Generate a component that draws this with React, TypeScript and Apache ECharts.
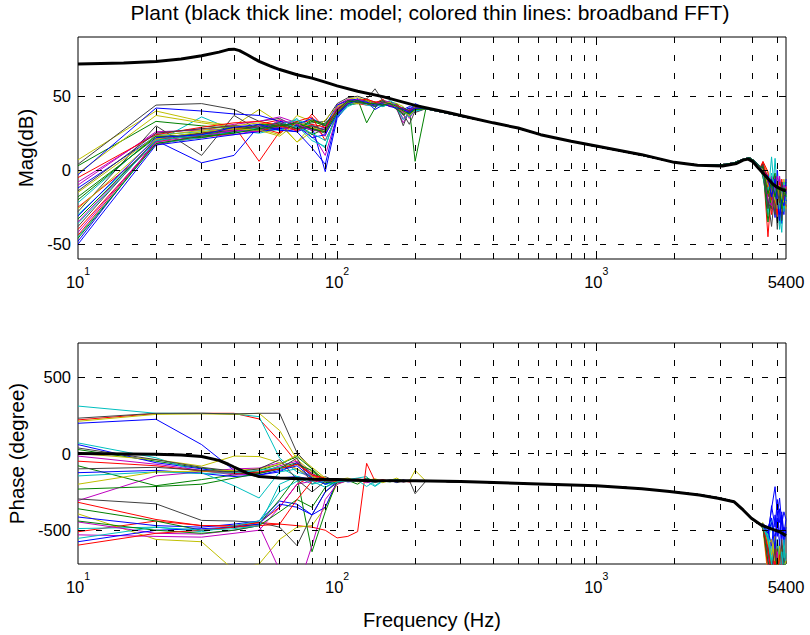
import React, { useEffect, useRef } from 'react';
import * as echarts from 'echarts';

const TITLE = 'Plant (black thick line: model; colored thin lines: broadband FFT)';
const FONT = '"Liberation Sans", Arial, Helvetica, sans-serif';

// frequency grids (Hz)
const F_LOW = [10, 20, 30, 40, 50, 60, 70, 80, 90, 100, 110, 120, 130, 140, 150, 160, 170, 180, 190, 200];
const F_MID = [220, 250, 300, 400, 500, 600, 800, 1000, 1300, 1600, 2000, 2500, 3000, 3400, 3700, 3900, 4100, 4300];
const F_END = [4400, 4600, 4750, 4900, 5000, 5100, 5200, 5300, 5400];

// ticks / labels
const FREQ_MIN = 10;
const FREQ_MAX = 5400;
const MAG_RANGE = [-60, 90];
const PHASE_RANGE = [-720, 720];
const MAG_TICKS = [-50, 0, 50];
const PHASE_TICKS = [-500, 0, 500];
const FREQ_TICKS = [10, 100, 1000, 5400];
const GRID_FREQS = [20, 30, 40, 50, 60, 70, 80, 90, 100, 200, 300, 400, 500, 600, 700, 800, 900, 1000, 2000, 3000, 4000, 5000];

const LINE_COLORS = ['#0000FF', '#008000', '#FF0000', '#00BFBF', '#BF00BF', '#BFBF00', '#404040'];

// model (black thick)
const F_MODEL_MAG = [10, 15, 20, 25, 30, 35, 38, 40, 42, 45, 50, 55, 60, 70, 80, 90, 100, 120, 150, 200, 270, 300, 400, 500, 610, 800, 1000, 1500, 2000, 2460, 3070, 3480, 3690, 3860, 4020, 4180, 4560, 4800, 4990, 5260, 5400];
const MAG_MODEL = [71.8, 72.4, 73.5, 75.2, 77.3, 79.8, 81.5, 81.8, 80.8, 78, 73.5, 70.5, 68, 64.5, 62.2, 59.5, 57, 53.3, 49.7, 43.8, 38.8, 37, 32, 28.5, 24, 19.5, 16.3, 10.5, 5.3, 3.3, 2.8, 4.5, 6.8, 7.5, 5.8, 2.4, -5, -9.3, -11.5, -13.4, -14];
const F_MODEL_PHASE = [10, 20, 25, 30, 35, 38, 40, 42, 45, 50, 60, 80, 100, 130, 200, 300, 600, 1000, 1500, 1920, 2500, 2950, 3400, 3690, 3970, 4330, 4800, 5100, 5400];
const PHASE_MODEL = [0, -5, -10, -20, -45, -70, -88, -105, -128, -150, -160, -167, -170, -176, -178, -183, -198, -210, -230, -248, -270, -292, -314, -368, -422, -466, -494, -510, -535];

// measured (colored thin) — shared middle band
const MAG_MID = [41.5, 39.5, 36.5, 32, 28.3, 24.3, 19.5, 16, 12.3, 9, 5.3, 3.5, 3.5, 5, 7.5, 8.5, 6, 2];
const PHASE_MID = [-180, -182, -184, -190, -194, -198, -204, -210, -221, -234, -250, -268, -290, -312, -365, -410, -445, -465];

const MAG_LOW = [
  [-12, 23, 24, 26, 28, 31, 30, 27, 29, 40, 46, 47, 48, 44, 46, 45, 44, 41, 43, 42],
  [-18, 22, 25, 27, 26, 29, 33, 28, 25, 38, 45, 48, 32, 42, 47, 46, 45, 40, 42, 6],
  [-25, 17, 24, 30, 6, 26, 31, 34, 30, 36, 44, 46, 47, 45, 48, 44, 43, 39, 41, 43],
  [-30, 19, 36, 27, 25, 28, 35, 22, 15, 41, 47, 45, 46, 43, 45, 47, 44, 42, 40, 44],
  [-35, 21, 23, 24, 27, 33, 28, 25, 10, 37, 46, 47, 48, 46, 44, 45, 42, 35, 38, 41],
  [7, 40, 33, 30, 41, 32, 19, 30, 27, 43, 48, 49, 47, 44, 46, 44, 45, 43, 37, 42],
  [4, 44, 45, 41, 33, 35, 29, 32, 33, 45, 49, 50, 48, 55, 47, 45, 43, 38, 31, 40],
  [-48, 20, 5, 10, 30, 28, 26, 30, -1, 35, 44, 47, 46, 41, 44, 46, 43, 40, 42, 41],
  [3, 33, 30, 28, 27, 30, 31, 24, 28, 39, 45, 47, 46, 44, 45, 44, 42, 41, 39, 43],
  [-40, 18, 22, 25, 31, 34, 26, 38, 28, 42, 46, 45, 44, 46, 47, 43, 44, 40, 37, 42],
  [-22, 24, 26, 29, 28, 27, 30, 20, 16, 39, 47, 48, 46, 45, 46, 45, 43, 42, 39, 40],
  [-10, 26, 27, 31, 33, 36, 32, 29, 23, 44, 48, 47, 46, 43, 45, 46, 41, 32, 40, 41],
  [-2, 37, 32, 29, 28, 24, 37, 33, 31, 41, 45, 46, 45, 44, 47, 45, 43, 41, 36, 42],
  [-28, 30, 10, 37, 27, 29, 31, 27, 26, 38, 46, 47, 47, 45, 44, 44, 42, 30, 41, 39],
  [-3, 42, 40, 38, 37, 33, 31, 35, 30, 44, 47, 48, 46, 43, 45, 44, 44, 41, 40, 45],
  [-33, 20, 24, 27, 30, 32, 28, 33, 30, 40, 44, 45, 47, 46, 43, 45, 43, 42, 40, 41],
  [-44, 19, 25, 28, 29, 25, 33, 36, 20, 37, 45, 47, 45, 44, 46, 44, 42, 40, 39, 42],
  [-45, 18, 22, 26, 28, 31, 34, 30, 27, 36, 43, 46, 44, 43, 46, 45, 42, 34, 38, 40],
  [-8, 25, 28, 26, 30, 29, 27, 31, 25, 42, 47, 46, 45, 44, 47, 46, 43, 42, 35, 41],
  [-15, 23, 27, 30, 32, 31, 19, 26, 34, 43, 46, 47, 48, 45, 45, 44, 42, 41, 38, 43],
  [-38, 21, 25, 29, 28, 31, 30, 28, 32, 39, 45, 46, 47, 44, 46, 45, 43, 37, 40, 41],
  [-50, 17, 21, 24, 26, 28, 30, 22, 24, 38, 46, 48, 46, 45, 44, 45, 42, 41, 38, 42],
  [-20, 23, 22, 26, 31, 30, 28, 34, 31, 40, 47, 46, 45, 45, 47, 44, 41, 38, 39, 41],
  [-5, 24, 29, 32, 33, 30, 27, 31, 29, 41, 45, 47, 48, 46, 45, 43, 44, 41, 40, 42],
  [-36, 20, 24, 25, 29, 32, 29, 25, 20, 37, 44, 47, 46, 44, 43, 45, 43, 40, 36, 41],
  [-42, 19, 23, 27, 26, 34, 31, 27, 28, 40, 45, 48, 46, 45, 46, 44, 43, 39, 41, 42],
  [-26, 21, 26, 28, 27, 23, 32, 29, 26, 39, 46, 45, 47, 44, 45, 46, 42, 40, 37, 41],
  [-14, 25, 28, 30, 29, 32, 28, 30, 27, 41, 47, 46, 45, 43, 46, 45, 41, 42, 40, 42],
  [-31, 22, 24, 29, 31, 27, 26, 15, 4, 37, 45, 47, 46, 44, 45, 43, 42, 41, 39, 42],
  [-46, 18, 23, 25, 28, 30, 32, 28, 26, 39, 46, 47, 45, 45, 44, 45, 43, 40, 38, 41],
];

const MAG_END = [
  [2, -8, -15, -4, -20, -12, -26, -10, -16],
  [-3, -15, -5, -22, -10, -30, -14, -20, -8],
  [4, -45, -12, -18, -6, -24, -16, -26, -12],
  [1, -6, -28, 8, -15, -40, -20, -12, -18],
  [-1, -12, -4, -26, -9, -18, -8, -28, -20],
  [5, -2, -18, -8, -28, -12, -22, -6, -15],
  [0, -20, -38, -14, -5, -20, -30, -18, -25],
  [3, -10, -14, -32, -8, -12, -36, -15, -10],
  [-2, -5, -22, -12, -18, -6, -15, -24, -13],
  [6, -1, -25, -10, -34, -22, -10, -18, -22],
  [2, -18, 9, -20, -12, -28, -42, -12, -9],
  [3, -8, -10, -4, -20, -10, -18, -24, -14],
  [0, -14, -22, -6, -16, -30, -8, -14, -26],
  [-4, -26, -6, -18, -40, -15, -25, -10, -17],
  [2, -4, -16, -26, 0, -18, -12, -30, -6],
  [-5, -18, -10, -2, -22, -8, -20, -16, -21],
  [4, -12, -30, -16, -10, -24, -6, -20, -11],
  [-2, -30, -8, -20, -14, -36, -18, -8, -23],
  [1, -7, -20, -12, -26, -4, -16, -22, -12],
  [0, -16, -12, -28, -6, -20, -28, -14, -19],
  [3, -22, -26, -6, -18, -12, -34, -18, -15],
  [-1, -9, -6, -16, -24, -30, -10, -26, -20],
  [2, -35, -16, -10, -12, -18, -22, -12, -13],
  [5, -6, -20, -22, -30, -8, -14, -20, -24],
  [-3, -14, -2, -14, -18, -26, -12, -28, -17],
  [1, -20, -24, -8, -4, -16, -24, -10, -12],
  [0, -10, -14, -20, -26, -10, -18, -22, -21],
  [4, -26, -10, -30, -14, -22, -8, -16, -16],
  [-2, -4, -18, -6, -20, -34, -20, -24, -14],
  [2, -16, -8, -18, -10, -14, -26, -12, -18],
];

const PHASE_LOW = [
  [197, 223, 58, -110, -150, -160, -150, -170, -180, -170, -185, -180, -170, -175, -180, -178, -182, -180, -176, -179],
  [26, -50, -95, -120, -125, -90, -60, -130, -170, -180, -175, -178, -170, -175, -180, -185, -175, -180, -182, -176],
  [219, 260, 262, 262, 225, 80, -60, -140, -170, -180, -175, -165, -175, -180, -170, -182, -178, -180, -185, -180],
  [309, 262, 262, 258, 240, -30, -120, -150, -170, -175, -170, -160, -150, -210, -175, -180, -170, -185, -180, -178],
  [-307, -146, -120, -100, -95, -60, -100, -170, -180, -180, -172, -176, -180, -178, -182, -180, -176, -180, -183, -178],
  [210, 255, 258, 255, 262, 150, -40, -120, -160, -190, -170, -180, -175, -165, -180, -176, -160, -185, -180, -110],
  [230, 262, 262, 258, 262, 262, 5, -100, -200, -165, -180, -175, -170, -180, -185, -175, -190, -180, -175, -262],
  [58, -60, -100, -130, -140, -120, -60, -150, -200, -170, -180, -175, -165, -180, -175, -180, -185, -172, -180, -178],
  [-80, -210, -170, -140, -110, -70, -20, -100, -180, -190, -175, -180, -175, -185, -178, -180, -170, -176, -180, -182],
  [-510, -440, -470, -475, -450, -460, -470, -480, -500, -550, -540, -509, -64, -180, -175, -180, -178, -180, -176, -180],
  [69, -28, -125, -210, -290, -120, -100, -160, -200, -190, -175, -170, -180, -215, -180, -175, -170, -180, -178, -182],
  [-17, -70, -110, -140, -130, -80, -50, -130, -180, -175, -180, -170, -190, -180, -175, -180, -178, -185, -180, -179],
  [-393, -560, -575, -760, -720, -560, -480, -470, -350, -200, -175, -180, -176, -180, -178, -180, -175, -175, -180, -180],
  [-296, -328, -436, -440, -450, -480, -600, -400, -250, -190, -180, -175, -185, -180, -178, -176, -180, -182, -175, -180],
  [-414, -470, -480, -460, -440, -310, -330, -400, -350, -180, -176, -180, -182, -175, -180, -178, -176, -180, -180, -179],
  [-360, -440, -500, -480, -460, -300, -150, -640, -380, -180, -175, -200, -160, -180, -178, -180, -175, -180, -182, -176],
  [-318, -430, -470, -470, -450, -350, -200, -150, -170, -180, -175, -180, -178, -180, -182, -176, -180, -180, -178, -180],
  [-489, -480, -510, -470, -440, -250, -180, -160, -200, -185, -180, -175, -215, -180, -178, -180, -175, -180, -180, -181],
  [-446, -520, -525, -500, -470, -760, -900, -600, -300, -200, -175, -180, -178, -180, -182, -175, -180, -180, -178, -180],
  [0, -40, -82, -17, -20, -60, -100, -150, -180, -170, -160, -185, -180, -170, -190, -175, -180, -178, -180, -181],
  [36, -40, -90, -115, -130, -100, -30, -200, -150, -185, -180, -170, -175, -190, -180, -172, -180, -185, -178, -180],
  [-125, -110, -130, -150, -140, -110, -80, -160, -200, -170, -180, -177, -180, -176, -180, -183, -180, -175, -180, -179],
  [-232, -215, -200, -160, -130, -100, -70, -110, -190, -180, -178, -176, -180, -175, -183, -180, -178, -181, -180, -179],
  [-50, -80, -115, -130, -120, -100, -70, -140, -160, -180, -175, -168, -176, -180, -182, -177, -180, -180, -183, -180],
  [-146, -120, -130, -125, -110, -90, -150, -200, -180, -175, -178, -180, -175, -180, -180, -176, -183, -180, -178, -181],
  [-530, -540, -545, -520, -500, -350, -200, -180, -176, -180, -175, -180, -178, -182, -180, -176, -180, -180, -178, -180],
  [-200, -120, -115, -110, -100, -70, -10, -90, -160, -185, -175, -180, -175, -180, -176, -180, -182, -175, -180, -180],
  [-100, -90, -110, -120, -100, -40, -170, -250, -180, -175, -180, -178, -182, -180, -176, -180, -180, -178, -180, -181],
  [-575, -500, -490, -480, -460, -330, -350, -400, -250, -180, -178, -180, -175, -180, -182, -180, -176, -180, -180, -179],
  [-440, -500, -520, -500, -470, -380, -300, -350, -220, -180, -176, -180, -178, -180, -175, -182, -180, -176, -180, -180],
  [-597, -520, -500, -480, -470, -460, -300, -180, -175, -180, -178, -180, -176, -182, -180, -178, -180, -175, -180, -180],
  [-553, -480, -500, -490, -470, -200, -150, -180, -220, -185, -178, -180, -175, -180, -178, -180, -182, -176, -180, -180],
];

const PHASE_END = [
  [-455, -520, -360, -216, -400, -290, -460, -380, -430],
  [-480, -650, -800, -560, -700, -800, -620, -760, -800],
  [-470, -560, -720, -800, -600, -780, -800, -700, -800],
  [-460, -600, -420, -700, -800, -560, -750, -800, -650],
  [-490, -700, -800, -620, -800, -700, -560, -800, -780],
  [-450, -540, -680, -800, -720, -800, -650, -560, -800],
  [-475, -620, -800, -700, -560, -800, -780, -620, -720],
  [-465, -560, -340, -480, -300, -450, -380, -520, -430],
  [-485, -640, -760, -800, -690, -620, -800, -740, -800],
  [-470, -580, -800, -650, -800, -720, -600, -800, -700],
  [-460, -520, -600, -800, -650, -800, -700, -800, -760],
  [-480, -700, -560, -800, -740, -620, -800, -680, -800],
  [-490, -800, -700, -600, -800, -760, -800, -720, -690],
  [-470, -560, -800, -760, -640, -800, -600, -800, -800],
  [-460, -480, -420, -560, -380, -520, -440, -600, -500],
  [-475, -660, -740, -800, -700, -800, -760, -800, -730],
  [-485, -600, -800, -680, -800, -640, -800, -760, -800],
  [-465, -540, -640, -800, -560, -760, -800, -640, -800],
  [-470, -720, -800, -640, -800, -800, -700, -800, -760],
  [-480, -580, -660, -540, -800, -680, -620, -800, -800],
  [-460, -640, -800, -720, -620, -800, -800, -680, -750],
  [-470, -500, -600, -400, -540, -360, -560, -480, -520],
  [-490, -620, -700, -800, -760, -640, -800, -800, -700],
  [-475, -760, -800, -600, -700, -800, -660, -800, -800],
  [-465, -560, -700, -760, -800, -720, -800, -560, -780],
  [-480, -680, -800, -800, -640, -780, -720, -800, -800],
  [-470, -600, -560, -720, -800, -600, -800, -740, -700],
  [-460, -640, -760, -620, -800, -800, -560, -800, -800],
  [-475, -520, -450, -620, -420, -600, -400, -560, -480],
  [-485, -700, -800, -760, -680, -800, -800, -720, -800],
  [-470, -620, -800, -700, -800, -660, -800, -800, -760],
  [-480, -560, -720, -800, -760, -800, -640, -780, -800],
];

// layout (pixels)
const G_LEFT = 78;
const G_WIDTH = 708;
const G1_TOP = 37;
const G1_HEIGHT = 222;
const G2_TOP = 343;
const G2_HEIGHT = 221;

function pairs(xs: number[], ys: number[]) {
  return xs.map((x, i) => [x, ys[i]]);
}

function buildMeasured(lows: number[][], mid: number[], ends: number[][], axis: number) {
  return lows.map((low, i) => {
    const color = LINE_COLORS[i % LINE_COLORS.length];
    return {
      type: 'line',
      xAxisIndex: axis,
      yAxisIndex: axis,
      symbol: 'none',
      showSymbol: false,
      silent: true,
      z: 3,
      data: [...pairs(F_LOW, low), ...pairs(F_MID, mid), ...pairs(F_END, ends[i])],
      lineStyle: { width: 1, color },
      itemStyle: { color },
    };
  });
}

function decorations(axis: number, yr: number[], yticks: number[], heightPx: number) {
  const dash = { type: [6, 12] as any, color: '#000', width: 1 };
  const perPx = (yr[1] - yr[0]) / heightPx;
  const minorLen = 5 * perPx;
  const majorLen = 8 * perPx;
  const xFactor = Math.pow(10, 7 / 259);
  const gridLines: any[] = [];
  GRID_FREQS.forEach((f) => {
    gridLines.push([{ coord: [f, yr[0]] }, { coord: [f, yr[1]] }]);
  });
  yticks.forEach((v) => {
    gridLines.push([{ coord: [FREQ_MIN, v] }, { coord: [FREQ_MAX, v] }]);
  });
  const ticks: any[] = [];
  GRID_FREQS.forEach((f) => {
    const len = FREQ_TICKS.includes(f) ? majorLen : minorLen;
    ticks.push([{ coord: [f, yr[0]] }, { coord: [f, yr[0] + len] }]);
    ticks.push([{ coord: [f, yr[1]] }, { coord: [f, yr[1] - len] }]);
  });
  yticks.forEach((v) => {
    ticks.push([{ coord: [FREQ_MIN, v] }, { coord: [FREQ_MIN * xFactor, v] }]);
    ticks.push([{ coord: [FREQ_MAX / xFactor, v] }, { coord: [FREQ_MAX, v] }]);
  });
  const base = {
    type: 'line',
    xAxisIndex: axis,
    yAxisIndex: axis,
    data: [[FREQ_MIN, yr[0]]],
    symbol: 'none',
    showSymbol: false,
    silent: true,
    lineStyle: { opacity: 0 },
  };
  return [
    {
      ...base,
      z: 1,
      markLine: { silent: true, symbol: ['none', 'none'], label: { show: false }, lineStyle: dash, data: gridLines, animation: false },
    },
    {
      ...base,
      z: 2,
      markLine: { silent: true, symbol: ['none', 'none'], label: { show: false }, lineStyle: { type: 'solid', color: '#000', width: 1 }, data: ticks, animation: false },
    },
  ];
}

function xAxisCfg(gridIndex: number, withName: boolean) {
  return {
    type: 'log',
    logBase: 10,
    gridIndex,
    min: FREQ_MIN,
    max: FREQ_MAX,
    axisLine: { show: false },
    axisTick: { show: false },
    splitLine: { show: false },
    name: withName ? 'Frequency (Hz)' : '',
    nameLocation: 'middle',
    nameGap: 46,
    nameMoveOverlap: false,
    nameTextStyle: { fontFamily: FONT, fontSize: 20, color: '#000', lineHeight: 20, verticalAlign: 'top' },
    axisLabel: {
      margin: 6,
      showMinLabel: true,
      showMaxLabel: true,
      formatter: (v: number) => {
        if (Math.abs(v - FREQ_MAX) < 1) return '{b|' + FREQ_MAX + '}';
        return '{b|10}{s|' + Math.round(Math.log10(v)) + '}';
      },
      rich: {
        b: { fontFamily: FONT, fontSize: 16.5, color: '#000', lineHeight: 25, verticalAlign: 'bottom' },
        s: { fontFamily: FONT, fontSize: 10.5, color: '#000', lineHeight: 10, verticalAlign: 'top' },
      },
    },
  };
}

function yAxisCfg(gridIndex: number, yr: number[], ticks: number[], name: string, gap: number) {
  return {
    type: 'value',
    gridIndex,
    min: yr[0],
    max: yr[1],
    axisLine: { show: false },
    axisTick: { show: false, customValues: ticks },
    splitLine: { show: false },
    name,
    nameLocation: 'middle',
    nameRotate: 90,
    nameGap: gap,
    nameTextStyle: { fontFamily: FONT, fontSize: 20.5, color: '#000' },
    axisLabel: { customValues: ticks, margin: 7, fontFamily: FONT, fontSize: 16.5, color: '#000' },
  };
}

export default function App() {
  const ref = useRef<HTMLDivElement>(null);
  useEffect(() => {
    document.body.style.margin = '0';
    if (!ref.current) return;
    const chart = echarts.init(ref.current, null, { renderer: 'svg' });
    const option: any = {
      animation: false,
      backgroundColor: '#fff',
      textStyle: { fontFamily: FONT },
      grid: [
        { left: G_LEFT, top: G1_TOP, width: G_WIDTH, height: G1_HEIGHT, show: true, borderColor: '#000', borderWidth: 1, backgroundColor: 'transparent', containLabel: false, outerBoundsMode: 'none' },
        { left: G_LEFT, top: G2_TOP, width: G_WIDTH, height: G2_HEIGHT, show: true, borderColor: '#000', borderWidth: 1, backgroundColor: 'transparent', containLabel: false, outerBoundsMode: 'none' },
      ],
      xAxis: [xAxisCfg(0, false), xAxisCfg(1, true)],
      yAxis: [
        yAxisCfg(0, MAG_RANGE, MAG_TICKS, 'Mag(dB)', 32),
        yAxisCfg(1, PHASE_RANGE, PHASE_TICKS, 'Phase (degree)', 42),
      ],
      graphic: [
        {
          type: 'text',
          x: G_LEFT + G_WIDTH / 2 - 2,
          y: 12,
          silent: true,
          style: {
            text: TITLE,
            fill: '#000',
            fontFamily: FONT,
            fontSize: 21,
            align: 'center',
            verticalAlign: 'middle',
            textAlign: 'center',
            textVerticalAlign: 'middle',
          },
        },
      ],
      series: [
        ...decorations(0, MAG_RANGE, MAG_TICKS, G1_HEIGHT),
        ...decorations(1, PHASE_RANGE, PHASE_TICKS, G2_HEIGHT),
        ...buildMeasured(MAG_LOW, MAG_MID, MAG_END, 0),
        ...buildMeasured(PHASE_LOW, PHASE_MID, PHASE_END, 1),
        {
          type: 'line', xAxisIndex: 0, yAxisIndex: 0, symbol: 'none', showSymbol: false, silent: true, z: 5,
          data: pairs(F_MODEL_MAG, MAG_MODEL),
          lineStyle: { width: 3, color: '#000' }, itemStyle: { color: '#000' },
        },
        {
          type: 'line', xAxisIndex: 1, yAxisIndex: 1, symbol: 'none', showSymbol: false, silent: true, z: 5,
          data: pairs(F_MODEL_PHASE, PHASE_MODEL),
          lineStyle: { width: 3, color: '#000' }, itemStyle: { color: '#000' },
        },
      ],
    };
    chart.setOption(option);
    return () => chart.dispose();
  }, []);
  return <div ref={ref} style={{ width: 810, height: 635 }} />;
}
